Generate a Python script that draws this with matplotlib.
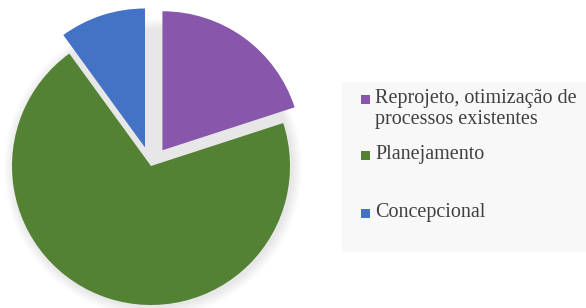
import matplotlib.pyplot as plt
from matplotlib.patches import Rectangle, Circle

plt.rcParams['font.family'] = 'serif'
plt.rcParams['font.serif'] = ['Liberation Serif', 'DejaVu Serif']

# === data ===
labels = ["Reprojeto, otimização de\nprocessos existentes", "Planejamento", "Concepcional"]
values = [20, 70, 10]
colors = ["#8856ab", "#548235", "#4472c4"]
explode_frac = [0.14, 0.0, 0.14]

W, H = 586, 308
fig = plt.figure(figsize=(W / 100, H / 100), dpi=100)
ax = fig.add_axes([0, 0, 1, 1])

cx, cy, r = 151, H - 166, 139

# soft shadow round the pie
for i in range(8):
    ax.add_patch(Circle((cx + 2, cy - 2), r + 10 - i * 1.3, color="#000000",
                        alpha=0.012, lw=0, zorder=0))

# explode is in data units when center/radius are given
ax.pie(values, colors=colors, explode=[e * r for e in explode_frac],
       startangle=90, counterclock=False, center=(cx, cy), radius=r,
       frame=True, wedgeprops=dict(linewidth=0))
ax.set_xlim(0, W)
ax.set_ylim(0, H)
ax.set_aspect("equal")
ax.axis("off")

# === legend box ===
ax.add_patch(Rectangle((342, H - 252), W - 342, 170, facecolor="#f8f8f8",
                       edgecolor="none", zorder=1))
ys = [99, 155, 213]
for lab, col, y in zip(labels, colors, ys):
    ax.add_patch(Rectangle((361, H - y - 5), 9, 9, facecolor=col,
                           edgecolor="none", zorder=2))
    ax.text(375, H - y + 10, lab, ha="left", va="top", fontsize=14.5,
            color="#404040", zorder=3, linespacing=1.12)

fig.savefig("out.png", dpi=100)
